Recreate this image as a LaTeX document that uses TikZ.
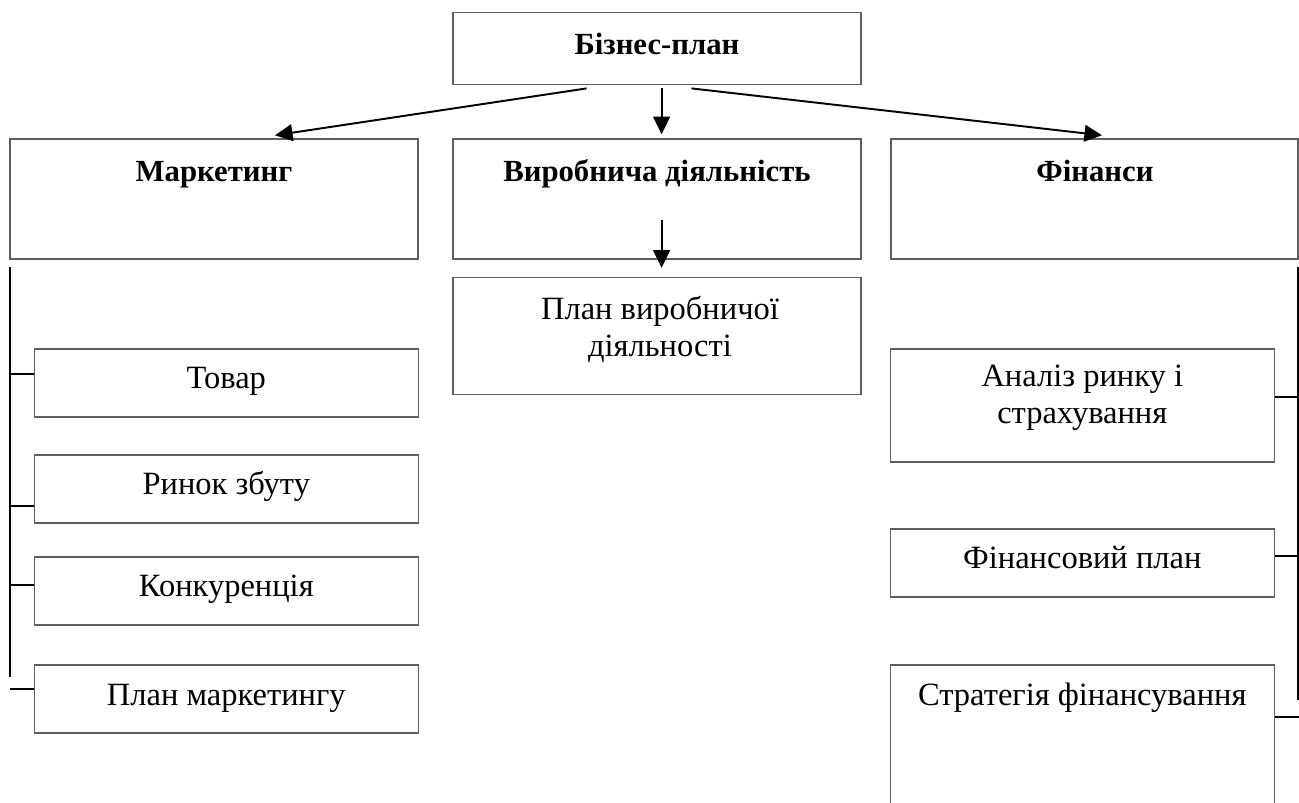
\documentclass[tikz,border=0pt]{standalone}
\usepackage{fontspec}
\setmainfont{Liberation Serif}
\usetikzlibrary{arrows.meta,calc}

\tikzset{
  box/.style={draw={rgb,255:red,95;green,95;blue,95}, line width=0.8pt, rectangle, inner sep=0pt},
  head/.style={font=\fontsize{17.5}{21}\selectfont\bfseries, anchor=base, inner sep=0pt},
  item/.style={font=\fontsize{18.5}{22}\selectfont, anchor=base, inner sep=0pt},
  link/.style={draw=black, line width=1.1pt, -{Triangle[length=10pt,width=9.5pt]}},
  rail/.style={draw=black, line width=1.1pt}
}

\begin{document}
\begin{tikzpicture}[x=0.02cm, y=-0.02cm]
\clip (0,0) rectangle (1299,802);

% top level
\node[box, minimum width=408*0.02cm, minimum height=72*0.02cm] (top) at (657,48.7) {};
\node[head] (topT) at (657,54.5) {Бізнес-план};

% second level
\node[box, minimum width=408*0.02cm, minimum height=120*0.02cm] (mk) at (214,199) {};
\node[box, minimum width=408*0.02cm, minimum height=120*0.02cm] (vd) at (657,199) {};
\node[box, minimum width=407*0.02cm, minimum height=120*0.02cm] (fin) at (1094.5,199) {};
\node[head] (mkT) at (214,181) {Маркетинг};
\node[head] (vdT) at (657,181) {Виробнича діяльність};
\node[head] (finT) at (1095,181) {Фінанси};

% production plan
\node[box, minimum width=408*0.02cm, minimum height=117*0.02cm] (pv) at (657,336) {};
\node[item] (pvA) at (660,319.5) {План виробничої};
\node[item] (pvB) at (660,356.5) {діяльності};

% marketing items
\node[box, minimum width=384*0.02cm, minimum height=68*0.02cm] (tovar) at (226.3,383) {};
\node[box, minimum width=384*0.02cm, minimum height=68*0.02cm] (rynok) at (226.3,489) {};
\node[box, minimum width=384*0.02cm, minimum height=68*0.02cm] (konk) at (226.3,591) {};
\node[box, minimum width=384*0.02cm, minimum height=68*0.02cm] (planm) at (226.3,699) {};
\node[item] (tovarT) at (226.3,388.5) {Товар};
\node[item] (rynokT) at (226.3,494.5) {Ринок збуту};
\node[item] (konkT) at (226.3,596.5) {Конкуренція};
\node[item] (planmT) at (226.3,705.5) {План маркетингу};

% finance items
\node[box, minimum width=384*0.02cm, minimum height=113*0.02cm] (analiz) at (1082.3,405.5) {};
\node[box, minimum width=384*0.02cm, minimum height=68*0.02cm] (finplan) at (1082.3,563) {};
\node[box, minimum width=384*0.02cm, minimum height=160*0.02cm] (strat) at (1082.3,745) {};
\node[item] (analizA) at (1082.3,386.5) {Аналіз ринку і};
\node[item] (analizB) at (1082.3,423) {страхування};
\node[item] (finplanT) at (1082.3,568) {Фінансовий план};
\node[item] (stratT) at (1082.3,705.5) {Стратегія фінансування};

% arrows from the top
\draw[link] ($(top.south)+(-70.4,3)$) -- ($(mk.north)+(61,-3)$);
\draw[link] ($(top.south)+(4.6,3)$) -- ($(vd.north)+(4.6,-4)$);
\draw[link] ($(top.south)+(34.5,3)$) -- ($(fin.north)+(7.5,-3)$);
\draw[link] ($(vd.south)+(4.6,-39.5)$) -- ($(pv.north)+(4.6,-9)$);

% left rail
\coordinate (lTop) at (10,267);
\coordinate (lBot) at (10,677);
\coordinate (l1) at (10,374);
\coordinate (l2) at (10,506);
\coordinate (l3) at (10,585);
\coordinate (l4) at (10,689);
\draw[rail] (lTop) -- (lBot);
\draw[rail] (l1) -- (l1 -| tovar.west);
\draw[rail] (l2) -- (l2 -| rynok.west);
\draw[rail] (l3) -- (l3 -| konk.west);
\draw[rail] (l4) -- (l4 -| planm.west);

% right rail
\coordinate (rTop) at (1297.7,266.7);
\coordinate (rBot) at (1297.7,700);
\coordinate (r1) at (1298,396.7);
\coordinate (r2) at (1298,556);
\coordinate (r3) at (1299,716.7);
\draw[rail] (rTop) -- (rBot);
\draw[rail] (analiz.east |- r1) -- (r1);
\draw[rail] (finplan.east |- r2) -- (r2);
\draw[rail] (strat.east |- r3) -- (r3);
\end{tikzpicture}
\end{document}
